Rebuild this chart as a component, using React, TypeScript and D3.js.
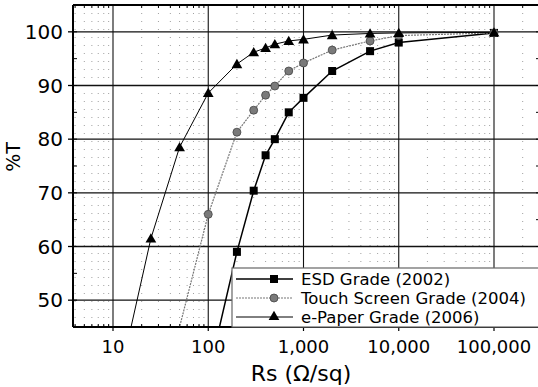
import React from "react";
import * as d3 from "d3";

const esdRs = [100, 200, 300, 400, 500, 700, 1000, 2000, 5000, 10000, 100000];
const esdT = [36, 59, 70.4, 77, 80, 85, 87.7, 92.7, 96.4, 98, 99.8];

const touchRs = [30, 100, 200, 300, 400, 500, 700, 1000, 2000, 5000, 10000, 100000];
const touchT = [29.5, 66, 81.3, 85.4, 88.2, 89.9, 92.7, 94.2, 96.6, 98.3, 99.3, 99.8];

const paperRs = [10, 25, 50, 100, 200, 300, 400, 500, 700, 1000, 2000, 5000, 10000, 100000];
const paperT = [30, 61.5, 78.5, 88.6, 94, 96.2, 97, 97.7, 98.3, 98.6, 99.4, 99.7, 99.8, 99.9];

const xTickValues = [10, 100, 1000, 10000, 100000];
const xTickLabels = ["10", "100", "1,000", "10,000", "100,000"];
const yTickValues = [50, 60, 70, 80, 90, 100];
const legendLabels = ["ESD Grade (2002)", "Touch Screen Grade (2004)", "e-Paper Grade (2006)"];

const W = 538;
const H = 387;
const L = 73;
const R = 541;
const T = 5;
const B = 327;
const FONT = "'DejaVu Sans', sans-serif";

export default function App() {
  const x = d3.scaleLog().domain([10, 100000]).range([113, 494]);
  const y = d3.scaleLinear().domain([45, 105]).range([B, T]);

  const minorX: number[] = [];
  for (let e = 0; e <= 5; e++) {
    for (let m = 2; m <= 9; m++) {
      const v = m * Math.pow(10, e);
      const px = x(v);
      if (px > L + 1 && px < R - 1) minorX.push(v);
    }
  }
  const minorY = [50, 55, 60, 65, 70, 75, 80, 85, 90, 95, 100];

  const line = d3
    .line<[number, number]>()
    .x((d) => x(d[0]))
    .y((d) => y(d[1]));

  const esd = esdRs.map((r, i) => [r, esdT[i]] as [number, number]);
  const touch = touchRs.map((r, i) => [r, touchT[i]] as [number, number]);
  const paper = paperRs.map((r, i) => [r, paperT[i]] as [number, number]);

  const tri = d3.symbol().type(d3.symbolTriangle).size(50)() as string;

  const square = (cx: number, cy: number, k: string) => (
    <rect key={k} x={cx - 4} y={cy - 4} width={8} height={8} fill="#000" />
  );
  const circle = (cx: number, cy: number, k: string) => (
    <circle key={k} cx={cx} cy={cy} r={4} fill="#7a7a7a" stroke="#444" strokeWidth={0.8} />
  );
  const triangle = (cx: number, cy: number, k: string) => (
    <path key={k} d={tri} transform={`translate(${cx},${cy + 1})`} fill="#000" />
  );

  const legX = 232;
  const legY = 268;
  const legRows = [279, 298, 317];

  return (
    <svg width={W} height={H} style={{ position: "absolute", left: 0, top: 0, background: "#fff" }}>
      <defs>
        <clipPath id="plot">
          <rect x={L} y={T} width={R - L} height={B - T} />
        </clipPath>
      </defs>
      <rect x={0} y={0} width={W} height={H} fill="#fff" />
      {minorX.map((v, i) => (
        <line key={"mx" + i} x1={x(v)} x2={x(v)} y1={T} y2={B} stroke="#888" strokeWidth={0.8} strokeDasharray="1 7" />
      ))}
      {xTickValues.map((v, i) => (
        <line key={"gx" + i} x1={x(v)} x2={x(v)} y1={T} y2={B} stroke="#111" strokeWidth={1.1} />
      ))}
      {yTickValues.map((v, i) => (
        <line key={"gy" + i} x1={L} x2={R} y1={y(v)} y2={y(v)} stroke="#111" strokeWidth={1.3} />
      ))}
      {minorX.map((v, i) => (
        <g key={"tx" + i}>
          <line x1={x(v)} x2={x(v)} y1={B} y2={B - 3} stroke="#000" strokeWidth={1} />
          <line x1={x(v)} x2={x(v)} y1={T} y2={T + 3} stroke="#000" strokeWidth={1} />
        </g>
      ))}
      {xTickValues.map((v, i) => (
        <line key={"txm" + i} x1={x(v)} x2={x(v)} y1={B} y2={B + 4} stroke="#000" strokeWidth={1.2} />
      ))}
      {minorY.map((v, i) => (
        <g key={"ty" + i}>
          <line x1={L} x2={L + 4} y1={y(v)} y2={y(v)} stroke="#000" strokeWidth={1} />
          <line x1={R} x2={R - 5} y1={y(v)} y2={y(v)} stroke="#000" strokeWidth={1} />
        </g>
      ))}
      {yTickValues.map((v, i) => (
        <line key={"tym" + i} x1={L - 5} x2={L} y1={y(v)} y2={y(v)} stroke="#000" strokeWidth={1.3} />
      ))}
      <line x1={L} x2={R} y1={T} y2={T} stroke="#000" strokeWidth={2} />
      <line x1={L} x2={R} y1={B} y2={B} stroke="#000" strokeWidth={2} />
      <line x1={L} x2={L} y1={T} y2={B} stroke="#000" strokeWidth={2} />
      <g clipPath="url(#plot)">
        <path d={line(esd) as string} fill="none" stroke="#000" strokeWidth={1.5} />
        <path d={line(touch) as string} fill="none" stroke="#777" strokeWidth={1.2} strokeDasharray="2 1" />
        <path d={line(paper) as string} fill="none" stroke="#000" strokeWidth={1} />
        {esd.map((d, i) => square(x(d[0]), y(d[1]), "s" + i))}
        {touch.map((d, i) => circle(x(d[0]), y(d[1]), "c" + i))}
        {paper.map((d, i) => triangle(x(d[0]), y(d[1]), "t" + i))}
      </g>
      {yTickValues.map((v, i) => (
        <text key={"yl" + i} x={63} y={y(v) + 7} textAnchor="end" fontFamily={FONT} fontSize={20} fill="#000">
          {v}
        </text>
      ))}
      {xTickValues.map((v, i) => (
        <text key={"xl" + i} x={x(v)} y={353} textAnchor="middle" fontFamily={FONT} fontSize={18} fill="#000">
          {xTickLabels[i]}
        </text>
      ))}
      <text x={301} y={381} textAnchor="middle" fontFamily={FONT} fontSize={22} fill="#000">
        Rs (Ω/sq)
      </text>
      <text
        transform="translate(20,157) rotate(-90)"
        textAnchor="middle"
        fontFamily={FONT}
        fontSize={19}
        fill="#000"
      >
        %T
      </text>
      <rect x={legX} y={legY} width={R - legX + 2} height={B - legY} fill="#fff" stroke="#666" strokeWidth={1.2} />
      <line x1={236} x2={293} y1={legRows[0]} y2={legRows[0]} stroke="#000" strokeWidth={1.5} />
      {square(274, legRows[0], "ls")}
      <line x1={236} x2={293} y1={legRows[1]} y2={legRows[1]} stroke="#777" strokeWidth={1.2} strokeDasharray="2 1" />
      {circle(274, legRows[1], "lc")}
      <line x1={236} x2={293} y1={legRows[2]} y2={legRows[2]} stroke="#000" strokeWidth={1} />
      {triangle(274, legRows[2] - 1, "lt")}
      {legendLabels.map((t, i) => (
        <text key={"lg" + i} x={301} y={legRows[i] + 6} fontFamily={FONT} fontSize={16.5} fill="#000">
          {t}
        </text>
      ))}
    </svg>
  );
}
